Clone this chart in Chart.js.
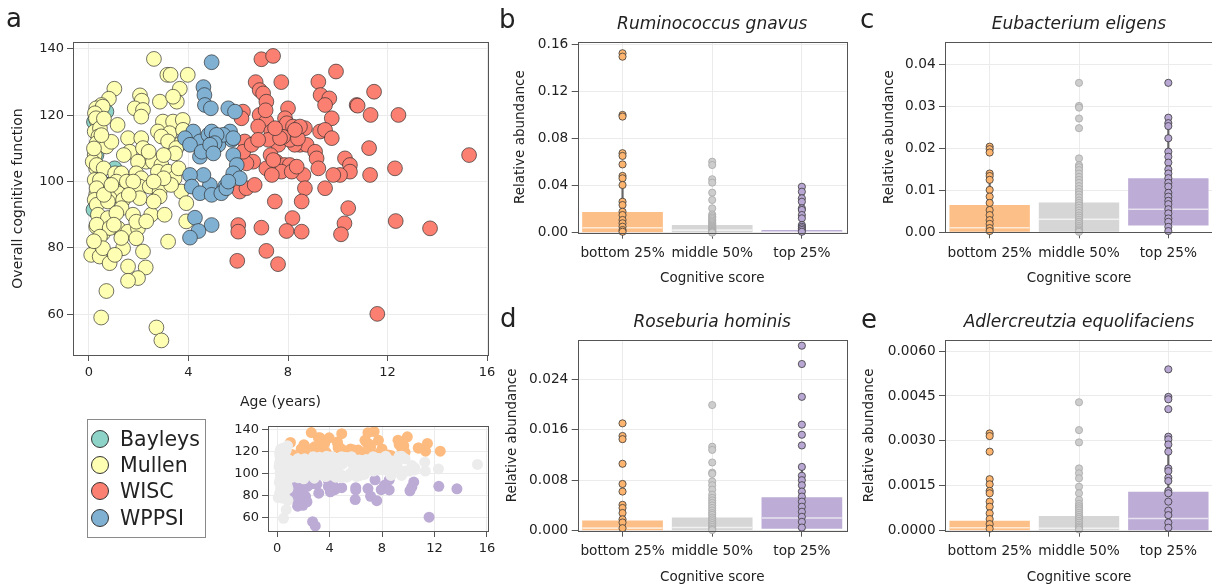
<!DOCTYPE html>
<html>
<head>
<meta charset="utf-8">
<script src="https://cdn.jsdelivr.net/npm/chart.js@4.4.1/dist/chart.umd.min.js"></script>
<style>
  body { margin: 0; width: 1212px; height: 586px; overflow: hidden; background: #fff; position: relative;
         font-family: 'DejaVu Sans', sans-serif; color: #222; }
  canvas { position: absolute; }
  .panel-label { position: absolute; font-size: 26px; line-height: 26px; }
  #legend { position: absolute; left: 87px; top: 419px; width: 117px; height: 117px; border: 1px solid #8a8a8a; }
  .leg-item { position: absolute; left: 0; height: 26px; line-height: 26px; font-size: 20.5px; white-space: nowrap; }
  .leg-dot { position: absolute; left: 3px; top: 4px; width: 16px; height: 16px; border-radius: 50%; border: 1px solid #333; }
  .leg-text { position: absolute; left: 32px; top: 0; }
</style>
</head>
<body>
<canvas id="scatter" width="500" height="415" style="left:0;top:0"></canvas>
<canvas id="inset" width="300" height="171" style="left:200px;top:415px"></canvas>
<canvas id="gnavus" width="360" height="300" style="left:500px;top:0"></canvas>
<canvas id="eligens" width="356" height="300" style="left:860px;top:0"></canvas>
<canvas id="hominis" width="360" height="286" style="left:500px;top:300px"></canvas>
<canvas id="equol" width="356" height="286" style="left:860px;top:300px"></canvas>
<div id="legend"></div>
<div class="panel-label" style="left:6px;top:5px">a</div>
<div class="panel-label" style="left:499px;top:6px">b</div>
<div class="panel-label" style="left:860px;top:6px">c</div>
<div class="panel-label" style="left:500px;top:305px">d</div>
<div class="panel-label" style="left:861px;top:306px">e</div>
<script>
// ---- panel a: age vs overall cognitive score, one array per instrument ----
const instruments = ['Bayleys', 'Mullen', 'WISC', 'WPPSI'];
const instrumentColors = ['#8dd3c7', '#ffffb3', '#fb8072', '#80b1d3'];

const bayleys = [[0.7,121.1],[0.55,112.5],[1.03,104.0],[0.76,99.0],[1.93,96.0],[0.18,91.5],[0.25,81.4],
  [0.45,100.5],[0.3,108.0],[0.2,118.0]];

const mullen = [[2.61,137],[3.15,132.2],[3.28,132.2],[3.97,132.2],[1.02,128],[3.65,128],[0.8,125],[2.05,126],
  [2.12,124.4],[3.53,124.1],[2.85,124.1],[3.38,125.6],[0.5,123.1],[0.29,122.1],[0.55,122.6],[0.24,120.6],
  [1.84,122.1],[2.17,121.6],[2.1,119.6],[0.3,118.6],[0.28,119.1],[1.15,117.1],[2.97,118.1],[3.38,118.1],
  [3.77,118.6],[0.23,115.1],[0.44,116.1],[0.38,113.6],[0.31,111.6],[0.7,110.6],[1.57,113.1],[2.1,113.1],
  [1.64,109.0],[2.17,110.1],[2.77,115.1],[3.24,114.6],[2.91,113.6],[3.18,112.1],[3.78,115.6],[3.71,111.6],
  [3.51,110.1],[3.46,108.5],[0.23,108.0],[0.29,104.0],[0.15,106.0],[0.31,105.0],[0.59,104.0],[1.05,102.5],
  [2.3,106.0],[2.57,106.0],[2.91,105.0],[2.77,103.0],[3.18,103.0],[3.44,101.0],[1.97,106.0],[1.9,102.5],
  [2.1,101.0],[2.04,98.5],[2.44,98.5],[2.84,97.0],[1.3,102.5],[1.1,100.0],[1.3,97.0],[3.71,97.0],
  [1.52,100.0],[1.78,100.0],[0.23,100.5],[0.44,100.5],[0.29,96.0],[0.31,98.0],[1.17,96.5],[0.23,94.5],
  [0.83,95.0],[1.37,94.5],[2.04,95.0],[2.84,95.5],[3.91,93.5],[0.31,93.0],[0.76,94.0],[1.31,92.0],
  [0.36,90.0],[0.76,89.0],[1.1,90.5],[1.77,90.0],[2.5,90.0],[3.04,90.0],[0.29,86.4],[0.56,84.4],
  [1.17,85.9],[1.57,84.9],[1.97,85.9],[1.9,87.9],[0.31,87.0],[0.83,86.0],[0.44,83.4],[3.91,88.0],
  [1.9,82.9],[3.18,81.9],[1.37,79.9],[0.09,77.9],[0.43,77.4],[0.83,75.4],[0.56,79.9],[1.04,77.9],
  [1.57,74.4],[2.17,78.9],[2.28,74.1],[1.97,70.9],[1.57,70.1],[0.7,67.0],[0.49,59.0],[2.71,56.0],
  [2.91,52.1],[0.6,119],[0.9,112],[1.4,108],[2.4,109],[3.0,108],[3.6,104],[0.6,96],[0.9,99],[1.6,96],
  [2.6,94],[3.3,99],[0.2,110],[0.5,114],[1.0,87],[2.3,88],[1.3,83],[0.2,82],[3.0,101],[2.6,100]];

const wisc = [[6.93,136.9],[7.4,137.9],[6.7,130],[7.73,130],[6.86,127.6],[7.0,126.6],[7.13,124.1],[9.93,133.2],
  [9.22,130.1],[9.31,126.1],[9.66,125.1],[9.49,123.1],[11.46,127.1],[10.76,123.1],[10.8,122.9],[11.32,120.1],
  [12.44,120.1],[9.76,119.1],[6.19,121.1],[6.13,119.1],[6.86,120.1],[8.0,122.1],[7.88,119.1],[7.95,117.6],
  [7.13,118.1],[6.8,116.6],[8.68,116.1],[8.2,116.6],[7.33,115.1],[9.29,115.1],[9.49,115.6],[9.76,113.1],
  [8.48,111.1],[8.75,111.1],[9.09,109.0],[9.15,107.0],[9.22,104.0],[11.26,110.1],[6.46,111.1],[6.26,112.1],
  [7.61,111.1],[8.27,111.1],[8.07,112.6],[7.8,113.5],[6.6,106.0],[7.13,104.0],[7.53,106.0],[7.86,105.0],
  [8.07,105.0],[7.73,103.0],[6.06,106.5],[6.33,105.5],[10.29,107.0],[10.49,105.0],[10.49,103.0],[10.09,102.0],
  [9.82,102.0],[11.3,102.0],[12.3,104.0],[15.28,108.0],[8.62,102.0],[8.68,98.0],[8.55,94.0],[9.49,98.0],
  [6.06,97.0],[6.33,98.0],[6.66,99.0],[7.47,94.0],[10.42,92.0],[8.18,89.0],[10.27,87.4],[10.13,84.1],
  [12.33,88.1],[13.71,85.9],[6.0,86.9],[6.0,84.9],[6.93,86.1],[7.94,85.1],[8.55,84.9],[5.96,76.1],
  [7.13,79.1],[7.6,75.1],[11.59,60.1],[7.1,121.5],[8.4,113],[7.3,108],[6.2,109],[7.21,112.6],[7.68,113.1],
  [8.48,116.6],[8.28,115.6],[7.48,116.1],[7.41,106.5],[8.15,103.0],[8.35,104.5],[7.35,102.0],[6.54,111.1],
  [6.8,112.6]];

const wppsi = [[4.93,136],[4.6,128.5],[4.64,126.1],[4.66,123.1],[4.9,122.1],[5.6,122.1],[5.87,121.1],
  [4.19,115.1],[4.46,112.1],[4.86,113.6],[5.33,113.6],[5.67,115.1],[5.8,108.0],[5.74,112.6],[5.2,111.1],
  [4.46,107.5],[5.94,105.0],[5.8,102.5],[5.47,98.5],[4.86,99.0],[4.6,102.0],[4.06,102.0],[4.13,98.5],
  [4.46,96.5],[4.93,96.0],[4.26,89.1],[4.93,86.9],[4.4,85.1],[4.06,83.1],[3.86,113.1],[4.06,111.1],
  [4.53,109.0],[4.8,114.1],[4.93,115.1],[5.4,114.1],[5.13,114.1],[5.05,111.6],[5.32,96.5],[5.52,98],
  [6.06,101],[4.87,111.1],[5.8,113.1],[5.0,108.5],[5.6,100]];

const ageTicks = [0, 4, 8, 12, 16];
const scoreTicks = [60, 80, 100, 120, 140];

// inset: same children coloured by cognitive tier
const tierNames = ['bottom 25%', 'middle 50%', 'top 25%'];
const insetColors = ['#bcabd5', '#ececec', '#fdbb80'];
const TOP_SCORE = 116, BOTTOM_SCORE = 94.5, MIN_TIER_AGE = 1;

// ---- panels b-e: relative abundance by cognitive tier ----
// box rows: [q1, median, q3, whiskerLow, whiskerHigh] for bottom / middle / top
const gnavusBox = [[0, 0.0042, 0.0176, 0, 0.040], [0, 0.0022, 0.0065, 0, 0.016], [0, 0.0005, 0.0023, 0, 0.0055]];
const gnavusBottom = [0.1524, 0.1495, 0.1000, 0.0986, 0.0675, 0.0652, 0.058, 0.0482, 0.0462, 0.0405, 0.0263,
  0.0235, 0.0178, 0.015, 0.0108, 0.008, 0.0051, 0.0023, 0.0008];
const gnavusMiddle = [0.0603, 0.0575, 0.0454, 0.0425, 0.034, 0.0278, 0.0207, 0.0155, 0.014, 0.0128, 0.0115,
  0.0102, 0.009, 0.008, 0.007, 0.006, 0.0052, 0.0045, 0.0038, 0.0031, 0.0025, 0.002, 0.0015, 0.001, 0.0006, 0.0003, 0.0001];
const gnavusTop = [0.039, 0.0348, 0.0292, 0.0263, 0.0207, 0.0193, 0.015, 0.0122, 0.0065, 0.005, 0.0037, 0.0023, 0.0008];
const gnavusTicks = [0, 0.04, 0.08, 0.12, 0.16];

const eligensBox = [[0, 0.0011, 0.0065, 0, 0.0135], [0, 0.0031, 0.0071, 0, 0.0176], [0.0016, 0.0055, 0.0129, 0, 0.027]];
const eligensBottom = [0.0204, 0.0198, 0.019, 0.014, 0.0134, 0.0125, 0.0101, 0.0085, 0.007, 0.0053, 0.0041,
  0.0029, 0.002, 0.001, 0.0003];
const eligensMiddle = [0.0356, 0.0301, 0.0297, 0.0271, 0.0248, 0.0176, 0.016, 0.0155, 0.0148, 0.014, 0.0132,
  0.0125, 0.0118, 0.011, 0.0103, 0.0096, 0.009, 0.0083, 0.0076, 0.007, 0.0064, 0.0058, 0.0052, 0.0046, 0.004,
  0.0035, 0.003, 0.0025, 0.002, 0.0015, 0.0011, 0.0007, 0.0004, 0.0001];
const eligensTop = [0.0356, 0.0273, 0.026, 0.0253, 0.0224, 0.0192, 0.018, 0.0166, 0.015, 0.014, 0.0129, 0.0118,
  0.0109, 0.0094, 0.0085, 0.0075, 0.0067, 0.0055, 0.0045, 0.0033, 0.0025, 0.0013, 0.0003];
const eligensTicks = [0, 0.01, 0.02, 0.03, 0.04];

const hominisBox = [[0, 0.0004, 0.0016, 0, 0.0041], [0, 0.0005, 0.0021, 0, 0.0055], [0.0003, 0.002, 0.0053, 0, 0.0101]];
const hominisBottom = [0.017, 0.015, 0.0145, 0.0106, 0.0074, 0.0062, 0.0041, 0.0036, 0.0028, 0.0018, 0.0013, 0.0004];
const hominisMiddle = [0.0199, 0.0133, 0.0128, 0.0108, 0.0092, 0.009, 0.0078, 0.0072, 0.0065, 0.0057, 0.0052,
  0.0048, 0.0044, 0.004, 0.0036, 0.0032, 0.0028, 0.0025, 0.0021, 0.0018, 0.0015, 0.0012, 0.0009, 0.0006, 0.0003, 0.0001];
const hominisTop = [0.0293, 0.0264, 0.0212, 0.0168, 0.0152, 0.0135, 0.0101, 0.0087, 0.008, 0.0072, 0.0062,
  0.0054, 0.0046, 0.0038, 0.003, 0.0022, 0.0014, 0.0005];
const hominisTicks = [0, 0.008, 0.016, 0.024];

const equolBox = [[0, 0.0001, 0.00033, 0, 0.0008], [0, 0.00008, 0.00049, 0, 0.00125], [0, 0.00041, 0.0013, 0, 0.0031]];
const equolBottom = [0.00325, 0.00316, 0.00264, 0.00172, 0.00155, 0.00133, 0.00125, 0.00097, 0.0008, 0.00058,
  0.00039, 0.00022, 0.00007];
const equolMiddle = [0.00429, 0.00336, 0.00295, 0.00208, 0.00192, 0.00175, 0.00147, 0.00125, 0.00103, 0.0009,
  0.00082, 0.00075, 0.00068, 0.0006, 0.00053, 0.00046, 0.0004, 0.00033, 0.00027, 0.0002, 0.00014, 0.00009, 0.00004];
const equolTop = [0.00539, 0.00447, 0.00439, 0.00406, 0.00314, 0.00305, 0.00288, 0.00264, 0.00208, 0.00199,
  0.00177, 0.00166, 0.00133, 0.00125, 0.00097, 0.00067, 0.00052, 0.00027, 0.0001];
const equolTicks = [0, 0.0015, 0.003, 0.0045, 0.006];

// ---- styles ----
Chart.defaults.font.family = "'DejaVu Sans', sans-serif";
Chart.defaults.color = '#222';
Chart.defaults.animation = false;
Chart.defaults.plugins.legend.display = false;
Chart.defaults.plugins.tooltip.enabled = false;

const boxFill = ['#fdbf88', '#d6d6d6', '#bdadd6'];
const dotFill = ['#fdb46e', '#cdcdcd', '#b8a6d3'];
const dotEdge = ['#3a3a3a', '#a8a8a8', '#3a3a3a'];
const whiskerColor = ['#666666', '#c4c4c4', '#666666'];

// box around the plotting area
Chart.register({
  id: 'frame',
  afterDatasetsDraw(chart) {
    const { ctx, chartArea: a } = chart;
    ctx.save();
    ctx.strokeStyle = '#555';
    ctx.lineWidth = 1;
    const l = Math.round(a.left) + 0.5, t = Math.round(a.top) + 0.5;
    ctx.strokeRect(l, t, Math.round(a.right) - Math.round(a.left), Math.round(a.bottom) - Math.round(a.top));
    ctx.restore();
  }
});

function fixedTicks(values) {
  return scale => { scale.ticks = values.map(v => ({ value: v })); };
}

function gridStyle() {
  return { color: '#ebebeb', lineWidth: 1, tickColor: '#555', tickLength: 6, tickWidth: 1 };
}

// ---- panel a ----
const groups = [bayleys, mullen, wisc, wppsi];
new Chart(document.getElementById('scatter'), {
  type: 'scatter',
  data: {
    datasets: instruments.map((name, i) => ({
      label: name,
      data: groups[i].map(p => ({ x: p[0], y: p[1] })),
      backgroundColor: instrumentColors[i],
      borderColor: 'rgba(45,45,45,0.85)',
      borderWidth: 0.8,
      pointRadius: 7.4,
      order: instruments.length - i
    }))
  },
  options: {
    responsive: false,
    layout: { autoPadding: false, padding: { top: 42, right: 12, left: 0, bottom: 0 } },
    scales: {
      x: {
        type: 'linear', min: -0.643, max: 16.04,
        afterFit: s => { s.height = 60; },
        afterBuildTicks: fixedTicks(ageTicks),
        border: { display: false },
        grid: gridStyle(),
        ticks: { font: { size: 13 }, padding: 4, maxRotation: 0 },
        title: { display: true, text: 'Age (years)', font: { size: 14 }, padding: { top: 0, bottom: 4.6 } }
      },
      y: {
        min: 47.7, max: 142.1,
        afterFit: s => { s.width = 73; },
        afterBuildTicks: fixedTicks(scoreTicks),
        border: { display: false },
        grid: gridStyle(),
        ticks: { font: { size: 13 }, padding: 3 },
        title: { display: true, text: 'Overall cognitive function', font: { size: 14 }, padding: { top: 9.6, bottom: 0 } }
      }
    }
  }
});

// ---- legend for panel a ----
const legendBox = document.getElementById('legend');
instruments.forEach((name, i) => {
  const item = document.createElement('div');
  item.className = 'leg-item';
  item.style.top = (6 + i * 26.2) + 'px';
  item.innerHTML = '<span class="leg-dot" style="background:' + instrumentColors[i] + '"></span>' +
    '<span class="leg-text">' + name + '</span>';
  legendBox.appendChild(item);
});

// ---- inset: tiers ----
function tierOf(p) {
  if (p[0] < MIN_TIER_AGE) return 1;
  if (p[1] >= TOP_SCORE) return 2;
  if (p[1] <= BOTTOM_SCORE) return 0;
  return 1;
}
const allChildren = [].concat(bayleys, mullen, wisc, wppsi);
new Chart(document.getElementById('inset'), {
  type: 'scatter',
  data: {
    datasets: [0, 1, 2].map(t => ({
      label: tierNames[t],
      data: allChildren.filter(p => tierOf(p) === t).map(p => ({ x: p[0], y: p[1] })),
      backgroundColor: insetColors[t],
      borderWidth: 0,
      pointRadius: 5.5,
      order: t === 1 ? 1 : 2
    }))
  },
  options: {
    responsive: false,
    layout: { autoPadding: false, padding: { top: 11, right: 12, left: 0, bottom: 0 } },
    scales: {
      x: {
        type: 'linear', min: -0.69, max: 16.08,
        afterFit: s => { s.height = 55; },
        afterBuildTicks: fixedTicks(ageTicks),
        border: { display: false },
        grid: gridStyle(),
        ticks: { font: { size: 13 }, padding: 4, maxRotation: 0 }
      },
      y: {
        min: 47.5, max: 143,
        afterFit: s => { s.width = 68; },
        afterBuildTicks: fixedTicks(scoreTicks),
        border: { display: false },
        grid: gridStyle(),
        ticks: { font: { size: 13 }, padding: 3 }
      }
    }
  }
});

// ---- panels b-e ----
function abundanceChart(id, title, box, points, ticks, max, digits, geo) {
  const datasets = [
    { type: 'bar', data: box.map(r => [r[3], r[4]]), backgroundColor: whiskerColor, barThickness: 1.5,
      grouped: false, order: 4 },
    { type: 'bar', data: box.map(r => [r[0], r[2]]), backgroundColor: boxFill, barPercentage: 0.9,
      categoryPercentage: 1, grouped: false, order: 3 },
    { type: 'line', data: box.map(r => r[1]), showLine: false, pointStyle: 'line', pointRadius: 40,
      pointBorderColor: 'rgba(255,255,255,0.65)', pointBorderWidth: 1.6, order: 2 }
  ];
  points.forEach((vals, i) => datasets.push({
    type: 'scatter', data: vals.map(v => ({ x: tierNames[i], y: v })),
    backgroundColor: dotFill[i], borderColor: dotEdge[i], borderWidth: 0.8, pointRadius: 3.6,
    clip: false, order: 1
  }));
  new Chart(document.getElementById(id), {
    type: 'bar',
    data: { labels: tierNames, datasets },
    options: {
      responsive: false,
      layout: { autoPadding: false, padding: { top: 0, right: geo.right, left: 0, bottom: 0 } },
      plugins: {
        title: { display: true, text: title, fullSize: false, font: { size: 17, style: 'italic', weight: 'normal' },
                 color: '#222', padding: { top: geo.titleTop, bottom: geo.titleBottom } }
      },
      scales: {
        x: {
          type: 'category', offset: true,
          afterFit: s => { s.height = geo.xHeight; },
          border: { display: false },
          grid: Object.assign(gridStyle(), { offset: false }),
          ticks: { font: { size: 13.7 }, padding: 7, autoSkip: false, maxRotation: 0, minRotation: 0 },
          title: { display: true, text: 'Cognitive score', font: { size: 13.5 }, padding: { top: 0, bottom: geo.xTitle } }
        },
        y: {
          type: 'linear', min: 0, max: max,
          afterFit: s => { s.width = geo.yWidth; },
          afterBuildTicks: fixedTicks(ticks),
          border: { display: false },
          grid: gridStyle(),
          ticks: { font: { size: 13.7 }, padding: 3.4, callback: v => Number(v).toFixed(digits) },
          title: { display: true, text: 'Relative abundance', font: { size: 13.5 }, padding: { top: geo.yTitle, bottom: 0 } }
        }
      }
    }
  });
}

abundanceChart('gnavus', 'Ruminococcus gnavus', gnavusBox, [gnavusBottom, gnavusMiddle, gnavusTop],
  gnavusTicks, 0.1622, 2, { right: 13.3, yWidth: 77.7, xHeight: 67.3, titleTop: 14.8, titleBottom: 6.5, xTitle: 13.9, yTitle: 11.9 });
abundanceChart('eligens', 'Eubacterium eligens', eligensBox, [eligensBottom, eligensMiddle, eligensTop],
  eligensTicks, 0.0454, 2, { right: 3, yWidth: 85, xHeight: 67.7, titleTop: 14.8, titleBottom: 6.5, xTitle: 13.9, yTitle: 21.2 });
abundanceChart('hominis', 'Roseburia hominis', hominisBox, [hominisBottom, hominisMiddle, hominisTop],
  hominisTicks, 0.0302, 3, { right: 13.3, yWidth: 77.7, xHeight: 55.3, titleTop: 12.8, titleBottom: 6.8, xTitle: 0.9, yTitle: 4.5 });
abundanceChart('equol', 'Adlercreutzia equolifaciens', equolBox, [equolBottom, equolMiddle, equolTop],
  equolTicks, 0.00637, 4, { right: 3, yWidth: 85, xHeight: 55.3, titleTop: 12.8, titleBottom: 6.8, xTitle: 0.9, yTitle: 1.2 });
</script>
</body>
</html>
